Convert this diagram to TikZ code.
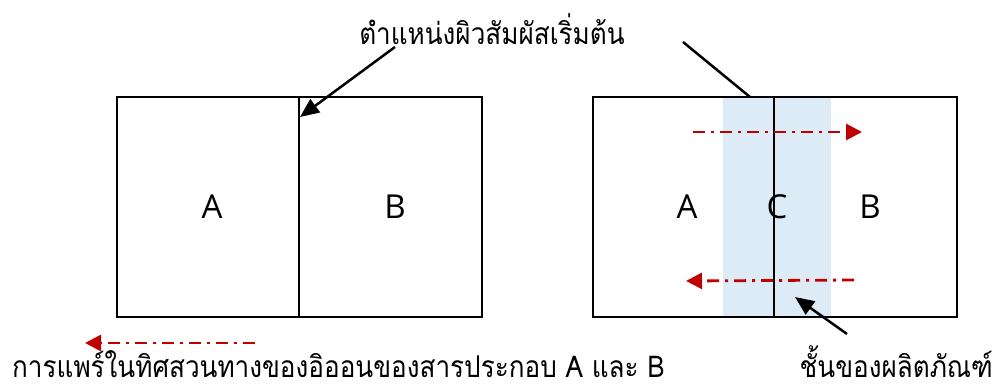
\documentclass[tikz,border=0pt]{standalone}
\usepackage{fontspec}
\setmainfont{Open Sans}
\newfontfamily\thaifont[Script=Thai]{Loma}
\usetikzlibrary{arrows.meta}
\definecolor{arrred}{RGB}{192,0,0}
\definecolor{bandblue}{RGB}{221,235,247}
\newcommand{\thaitext}[1]{\scalebox{0.87}[1]{#1}}
\tikzset{
  box/.style={draw=black, line width=2.8pt, fill=none},
  letter/.style={font=\fontsize{33}{33}\selectfont, inner sep=0pt},
  thai/.style={font=\thaifont\fontsize{30}{30}\selectfont, inner sep=0pt, text depth=0pt},
  pointer/.style={draw=black, line width=2.5pt, -{Triangle[length=19pt,width=16pt]}},
  plainline/.style={draw=black, line width=2.5pt},
  flow/.style={draw=arrred, line width=2.8pt, dash pattern=on 12pt off 6pt on 3pt off 6pt, -{Triangle[length=16pt,width=16pt]}},
}
\begin{document}
\begin{tikzpicture}[x=1pt,y=-1pt]
\useasboundingbox (0,0) rectangle (1003,387);
% left diagram
\path[box] (117,97) rectangle (482,317);
\coordinate (Ltop) at (299,97);
\coordinate (Lbot) at (299,317);
\draw[box] (Ltop) -- (Lbot);
\node[letter] (LA) at (212,207) {A};
\node[letter] (LB) at (395,207) {B};
% right diagram
\fill[bandblue] (723,97) rectangle (831,317);
\path[box] (593,97) rectangle (957,317);
\coordinate (Rtop) at (774,97);
\coordinate (Rbot) at (774,317);
\draw[box] (Rtop) -- (Rbot);
\node[letter] (RA) at (687,207) {A};
\node[letter] (RC) at (777,207) {C};
\node[letter] (RB) at (870,207) {B};
% labels
\node[thai, anchor=base] (top) at (492,45) {\thaitext{ตำแหน่งผิวสัมผัสเริ่มต้น}};
\node[thai, anchor=base west] (diff) at (12,377) {\thaitext{การแพร์ในทิศสวนทางของอิออนของสารประกอบ A และ B}};
\node[thai, anchor=base east] (prod) at (993,377) {\thaitext{ชั้นของผลิตภัณฑ์}};
% pointers
\coordinate (tipL) at (300,117);
\coordinate (startL) at (395,47);
\draw[pointer] (startL) -- (tipL);
\coordinate (startR) at (683,42);
\coordinate (endR) at (750,97);
\draw[plainline] (startR) -- (endR);
\coordinate (startP) at (847,334);
\coordinate (tipP) at (795,297);
\draw[pointer] (startP) -- (tipP);
% red flow arrows
\coordinate (f1s) at (693,132);
\coordinate (f1e) at (862,132);
\draw[flow] (f1s) -- (f1e);
\coordinate (f2s) at (854,280);
\coordinate (f2e) at (686,281);
\draw[flow] (f2s) -- (f2e);
\coordinate (f3s) at (255,343);
\coordinate (f3e) at (85,343);
\draw[flow] (f3s) -- (f3e);
\end{tikzpicture}
\end{document}
